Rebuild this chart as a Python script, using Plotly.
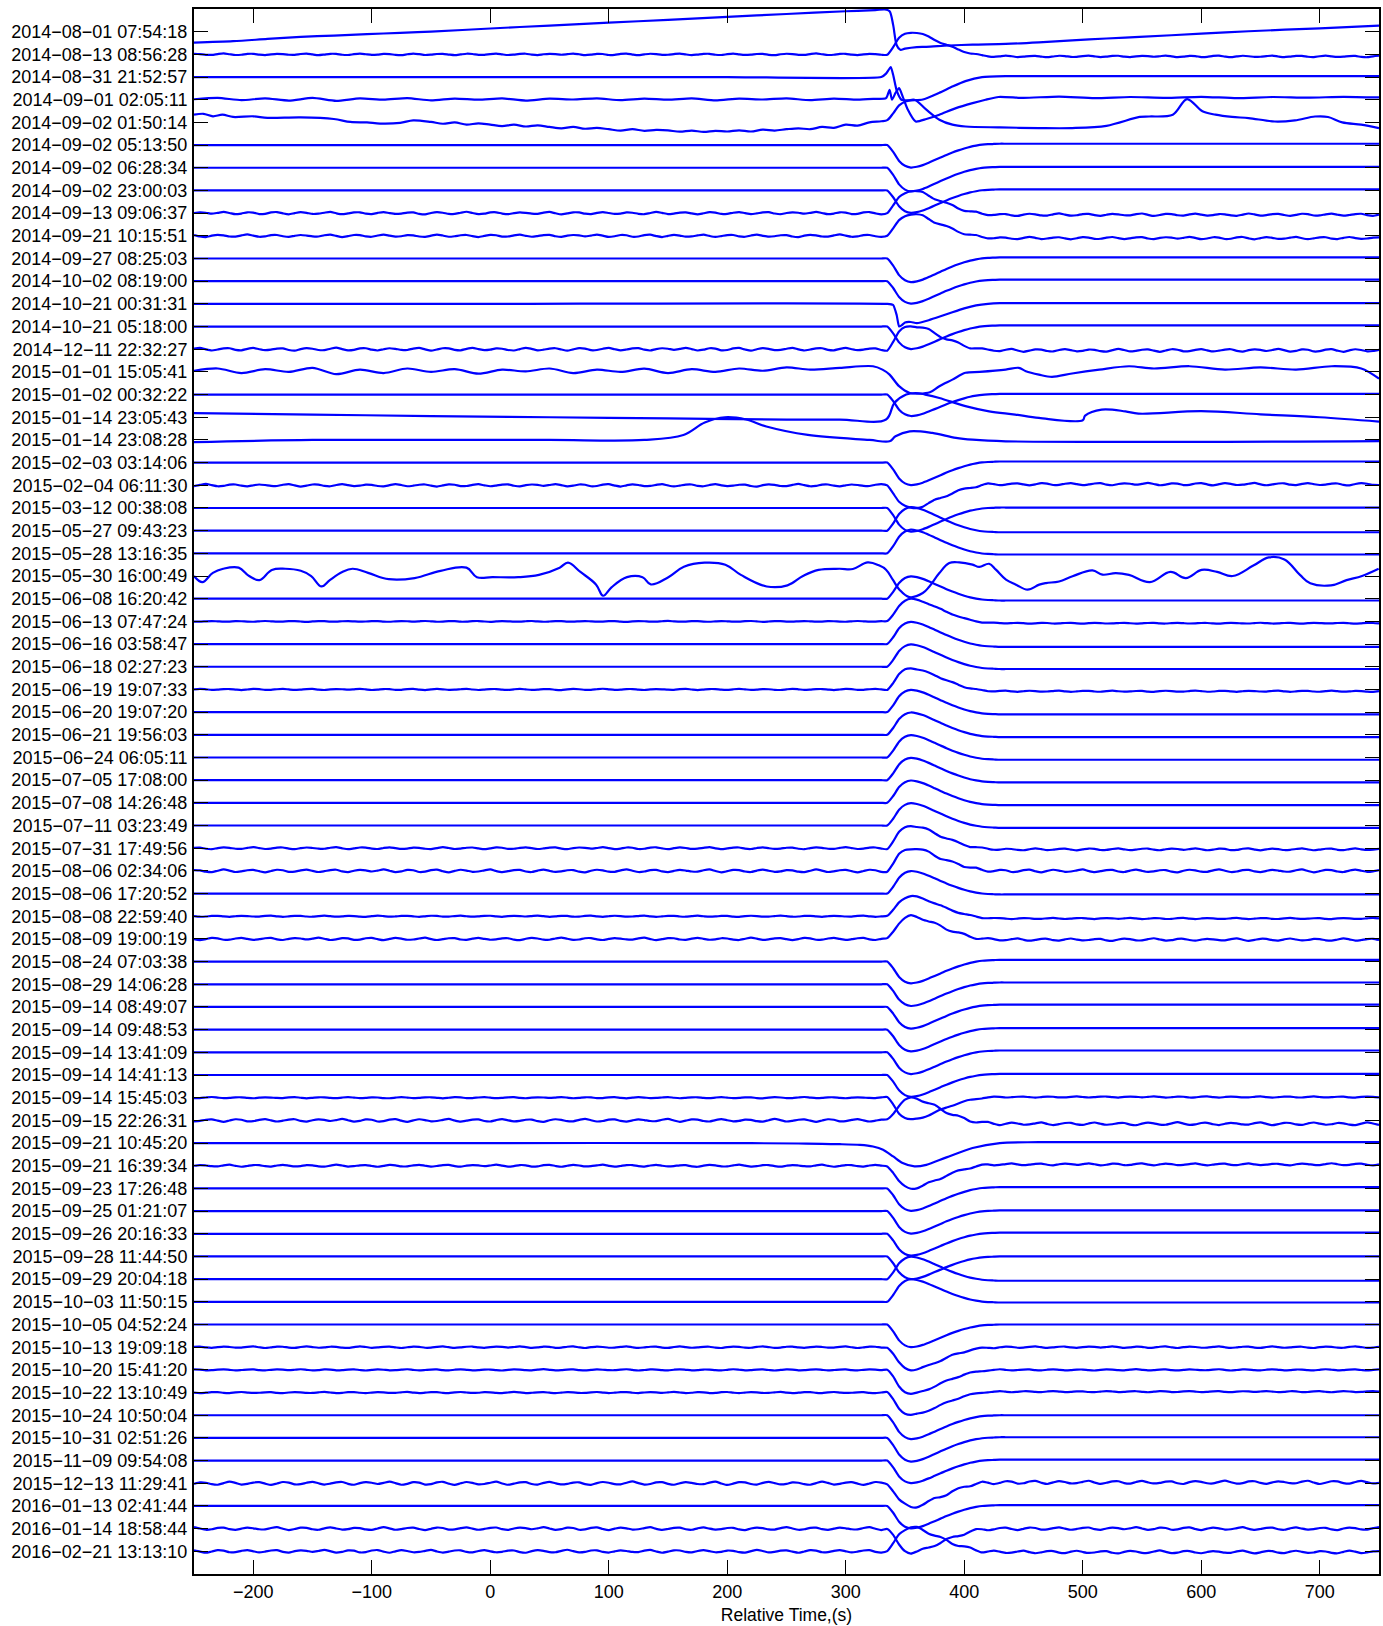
import numpy as np
import plotly.graph_objects as go

# ---------------- labels (one per trace, top to bottom) ----------------
labels = [
    "2014-08-01 07:54:18", "2014-08-13 08:56:28", "2014-08-31 21:52:57", "2014-09-01 02:05:11",
    "2014-09-02 01:50:14", "2014-09-02 05:13:50", "2014-09-02 06:28:34", "2014-09-02 23:00:03",
    "2014-09-13 09:06:37", "2014-09-21 10:15:51", "2014-09-27 08:25:03", "2014-10-02 08:19:00",
    "2014-10-21 00:31:31", "2014-10-21 05:18:00", "2014-12-11 22:32:27", "2015-01-01 15:05:41",
    "2015-01-02 00:32:22", "2015-01-14 23:05:43", "2015-01-14 23:08:28", "2015-02-03 03:14:06",
    "2015-02-04 06:11:30", "2015-03-12 00:38:08", "2015-05-27 09:43:23", "2015-05-28 13:16:35",
    "2015-05-30 16:00:49", "2015-06-08 16:20:42", "2015-06-13 07:47:24", "2015-06-16 03:58:47",
    "2015-06-18 02:27:23", "2015-06-19 19:07:33", "2015-06-20 19:07:20", "2015-06-21 19:56:03",
    "2015-06-24 06:05:11", "2015-07-05 17:08:00", "2015-07-08 14:26:48", "2015-07-11 03:23:49",
    "2015-07-31 17:49:56", "2015-08-06 02:34:06", "2015-08-06 17:20:52", "2015-08-08 22:59:40",
    "2015-08-09 19:00:19", "2015-08-24 07:03:38", "2015-08-29 14:06:28", "2015-09-14 08:49:07",
    "2015-09-14 09:48:53", "2015-09-14 13:41:09", "2015-09-14 14:41:13", "2015-09-14 15:45:03",
    "2015-09-15 22:26:31", "2015-09-21 10:45:20", "2015-09-21 16:39:34", "2015-09-23 17:26:48",
    "2015-09-25 01:21:07", "2015-09-26 20:16:33", "2015-09-28 11:44:50", "2015-09-29 20:04:18",
    "2015-10-03 11:50:15", "2015-10-05 04:52:24", "2015-10-13 19:09:18", "2015-10-20 15:41:20",
    "2015-10-22 13:10:49", "2015-10-24 10:50:04", "2015-10-31 02:51:26", "2015-11-09 09:54:08",
    "2015-12-13 11:29:41", "2016-01-13 02:41:44", "2016-01-14 18:58:44", "2016-02-21 13:13:10",
]

x_ticks = [-200, -100, 0, 100, 200, 300, 400, 500, 600, 700]

# sample times (s) of the standard traces
times = np.arange(-250, 755, 5)

# pulse shape, t = 330 ... 460 every 5 s (unit peak, up positive)
pulse_shape = [0, 0, 0.3, 0.7, 0.92, 1.0, 0.97, 0.9, 0.8, 0.69, 0.58, 0.47, 0.37, 0.28,
               0.2, 0.13, 0.08, 0.04, 0.02, 0.01, 0, 0, 0, 0, 0, 0, 0]
# level change after the pulse, same times
step_shape = [0, 0, 0, 0.05, 0.1, 0.16, 0.23, 0.3, 0.38, 0.46, 0.54, 0.62, 0.7, 0.77,
              0.83, 0.88, 0.92, 0.95, 0.97, 0.985, 1, 1, 1, 1, 1, 1, 1]
# background ripple (5 s spacing)
ripple = [0.2, 0.9, 0.1, -0.8, -0.3, 0.6, 0.4, -0.7, -0.5, 0.5, 0.8, -0.2, -0.9, 0.0, 0.7, 0.2, -0.6, -0.4, 0.3, 0.9,
          -0.1, -0.8, -0.2, 0.5, 0.6, -0.4, -0.7, 0.2, 0.8, 0.0, -0.6, -0.3, 0.4, 0.5, -0.5, -0.9, 0.1, 0.7, 0.3, -0.5,
          -0.6, 0.3, 1.0, 0.1, -0.7, -0.4, 0.5, 0.6, -0.3, -0.8, 0.0, 0.6, 0.2, -0.4, -0.5, 0.4, 0.9, -0.1, -0.9, -0.2,
          0.6, 0.5, -0.4, -0.7, 0.2, 0.8, 0.1, -0.6, -0.3, 0.5, 0.3, -0.5, -0.8, 0.1, 0.9, 0.2, -0.7, -0.3, 0.4, 0.6,
          -0.2, -0.9, -0.1, 0.7, 0.4, -0.6, -0.5, 0.3, 0.8, 0.0, -0.7, -0.2, 0.5, 0.7, -0.3, -0.8, 0.1, 0.6, 0.3, -0.4]

# per-trace pulse amplitude (trace spacings, up positive), level after pulse, ripple size
amps = [0, 1.0, 0, 0, 0, -1.0, -1.05, -1.0, 1.0, 0.98,
        -1.05, -1.0, 0, -1.0, 1.05, 0, -0.95, 0, 0, -1.0,
        -1.02, -1.05, 1.05, 1.05, 0, 1.0, 1.0, 1.0, 1.0, 0.95,
        1.0, 1.0, 1.0, 1.0, 1.0, 1.0, 1.0, 1.0, 1.0, 0.9,
        1.0, -0.97, -0.97, -0.97, -0.97, -0.97, -0.97, -0.97, 1.0, 0,
        -1.0, -1.0, -1.0, -0.97, -1.0, 1.0, 1.0, -1.0, -1.0, -1.05,
        -1.0, -1.05, -1.05, -1.0, -1.05, -1.0, -1.05, 1.05]
tails = [0, -0.09, 0, 0, 0, 0.06, 0.04, 0.05, -0.07, -0.1,
         0.05, 0.07, 0, 0.05, -0.05, 0, 0.03, 0, 0, 0.05,
         0.05, 0.02, -0.07, -0.05, 0, -0.08, -0.08, -0.12, -0.1, -0.08,
         -0.1, -0.1, -0.1, -0.1, -0.1, -0.1, -0.05, 0.0, -0.04, -0.1,
         -0.03, 0.08, 0.08, 0.1, 0.07, 0.08, 0.05, 0.03, -0.15, 0,
         0.06, 0.06, 0.03, 0.05, 0.0, -0.07, -0.03, 0.0, 0.0, 0.0,
         0.04, 0.0, 0.03, 0.04, 0.04, 0.04, 0.0, -0.03]
ripples = [0, 0.04, 0, 0, 0, 0, 0, 0, 0.06, 0.06,
           0, 0, 0, 0, 0.07, 0, 0, 0, 0, 0,
           0.06, 0, 0, 0, 0, 0, 0.02, 0, 0, 0.03,
           0, 0, 0, 0, 0, 0, 0.05, 0.07, 0, 0.03,
           0.06, 0, 0, 0, 0, 0, 0, 0.03, 0.07, 0,
           0.05, 0, 0, 0, 0, 0, 0, 0, 0.04, 0.03,
           0.03, 0, 0, 0, 0.08, 0, 0.07, 0.07]

# ---------------- individually read traces (time, level in trace spacings, up positive) --------
tr1_t = [-250, -217, -188, -160, -132, -104, -76, -50, 0, 50, 100, 150, 200, 250, 300, 325, 333,
         337, 340, 343, 346, 350, 360, 368, 387, 407, 435, 463, 491, 520, 548, 600, 640, 700, 750]
tr1_v = [-0.48, -0.42, -0.32, -0.23, -0.17, -0.11, -0.05, 0.0, 0.14, 0.27, 0.4, 0.52, 0.65, 0.78, 0.9, 0.95, 0.98,
         0.9, 0.3, -0.6, -0.8, -0.75, -0.68, -0.67, -0.61, -0.57, -0.54, -0.47, -0.38, -0.3, -0.23, -0.09, 0.02, 0.15, 0.27]

tr3_t = [-250, 0, 200, 330, 334, 338, 340, 343, 347, 352, 365, 379, 390, 401, 415, 435, 750]
tr3_v = [0, 0, 0, 0, 0.15, 0.44, 0.1, -0.6, -1.0, -1.03, -0.99, -0.69, -0.42, -0.18, 0, 0.04, 0.04]

tr4_t = [-250, -230, -210, -190, -170, -150, -130, -110, -90, -70, -50, -30, -10, 10, 30, 50, 70, 90,
         110, 130, 150, 170, 190, 210, 230, 250, 270, 290, 310, 325, 334, 337, 339, 342, 345, 348,
         352, 359, 368, 379, 393, 407, 418, 429, 450, 480, 510, 540, 570, 600, 630, 660, 690, 720, 750]
tr4_v = [0.02, 0.08, -0.02, 0.06, -0.04, 0.08, -0.05, 0.06, 0.0, 0.07, -0.03, 0.05, 0.0, 0.06, -0.04, 0.05,
         0.01, 0.06, -0.02, 0.05, 0.0, 0.06, -0.03, 0.05, 0.01, 0.06, -0.02, 0.05, 0.0, 0.04, 0.07, 0.44,
         0.0, 0.3, 0.51, 0.15, -0.4, -0.96, -0.85, -0.66, -0.37, -0.15, 0.0, 0.12, 0.08, 0.14, 0.07, 0.12,
         0.08, 0.13, 0.07, 0.12, 0.09, 0.13, 0.1]

tr5_t = [-250, -242, -234, -226, -217, -200, -188, -160, -132, -118, -104, -93, -76, -65, -50, -40, -30, -20,
         -10, 0, 10, 20, 30, 40, 50, 60, 70, 80, 90, 100, 110, 120, 130, 140, 150, 160, 170, 180, 190, 200,
         210, 220, 230, 240, 250, 260, 270, 280, 290, 300, 310, 320, 330, 335, 340, 345, 351, 358, 368, 379,
         390, 401, 430, 463, 491, 520, 548, 556, 576, 588, 601, 612, 626, 640, 662, 679, 696, 707, 719, 735, 750]
tr5_v = [0.34, 0.38, 0.27, 0.34, 0.24, 0.27, 0.2, 0.22, 0.15, 0.02, 0.0, -0.05, -0.02, 0.09, 0.02, -0.06, 0.0,
         -0.1, -0.04, -0.1, -0.16, -0.1, -0.18, -0.13, -0.2, -0.26, -0.2, -0.28, -0.24, -0.3, -0.36, -0.3,
         -0.37, -0.33, -0.35, -0.41, -0.36, -0.42, -0.37, -0.4, -0.35, -0.4, -0.32, -0.36, -0.3, -0.26, -0.3,
         -0.2, -0.24, -0.1, -0.14, 0.0, 0.05, 0.1, 0.4, 0.75, 0.93, 1.0, 0.56, 0.12, -0.1, -0.18, -0.22,
         -0.25, -0.25, -0.15, 0.24, 0.26, 0.34, 1.03, 0.49, 0.34, 0.24, 0.19, 0.04, 0.09, 0.26, 0.24, 0.0,
         -0.1, -0.25]

tr13_t = [-250, 0, 335, 340, 343, 345, 347, 350, 355, 360, 370, 380, 390, 400, 410, 420, 430, 750]
tr13_v = [0, 0, 0, -0.05, -0.5, -1.0, -0.95, -0.82, -0.8, -0.85, -0.72, -0.55, -0.37, -0.2, -0.07, 0.0, 0.03, 0.03]

tr16_t = [-250, -230, -210, -190, -170, -150, -130, -110, -90, -70, -50, -30, -10, 10, 30, 50, 70, 90, 110,
          130, 150, 170, 190, 210, 230, 250, 270, 295, 323, 331, 337, 345, 354, 362, 371, 379, 390, 401, 413,
          435, 446, 452, 463, 474, 491, 514, 539, 560, 590, 620, 650, 680, 710, 735, 750]
tr16_v = [0.05, 0.15, -0.05, 0.12, 0.0, 0.18, -0.1, 0.1, -0.05, 0.15, 0.0, 0.12, -0.08, 0.1, 0.02, 0.15, -0.05,
          0.1, 0.0, 0.14, -0.05, 0.12, 0.0, 0.15, 0.05, 0.2, 0.1, 0.18, 0.25, 0.1, -0.12, -0.63, -0.93, -0.96,
          -0.9, -0.63, -0.34, -0.04, 0.0, 0.1, 0.18, 0.03, -0.12, -0.22, -0.07, 0.1, 0.25, 0.15, 0.25, 0.1,
          0.2, 0.1, 0.25, 0.15, -0.3]

tr18_t = [-250, -150, -50, 50, 150, 250, 295, 334, 341, 351, 359, 367, 379, 401, 421, 443, 463, 500, 502,
          516, 536, 547, 600, 650, 700, 750]
tr18_v = [0.18, 0.12, 0.05, 0.0, -0.05, -0.1, -0.1, -0.1, 0.63, 1.0, 1.07, 1.0, 0.85, 0.49, 0.26, 0.12,
          -0.03, -0.13, 0.07, 0.34, 0.26, 0.16, 0.27, 0.13, 0.0, -0.19]

tr19_t = [-250, -150, -50, 50, 130, 163, 181, 198, 216, 233, 268, 320, 337, 342, 354, 373, 393, 407, 435, 750]
tr19_v = [-0.1, 0.0, 0.0, 0.0, 0.0, 0.22, 0.77, 1.0, 0.9, 0.59, 0.22, 0.0, -0.06, 0.16, 0.38, 0.31, 0.09,
          0.01, -0.06, -0.05]

tr25_t = [-250, -242.9, -234.1, -225.4, -212.3, -203.5, -194.8, -184.3, -173, -159.9, -151.1, -142.4, -135.4,
          -124.9, -116.2, -103.1, -85.6, -63.8, -41.9, -20.1, -11.3, 1.8, 23.6, 41.1, 58.6, 65.6, 76.1, 89.2,
          95.3, 102.3, 115.4, 128.5, 135.5, 150.3, 163.4, 180.9, 198.4, 211.5, 233.3, 250.8, 263.9, 277, 294.5,
          306, 318.6, 328.4, 334, 339.7, 345.3, 353.7, 365, 370.6, 379, 387.4, 395.8, 407, 412.7, 421, 426.7,
          435.2, 443.6, 453.4, 463.3, 469, 480, 491.4, 508.2, 516.6, 527.9, 539, 556.6, 574, 587, 600.3, 613.4,
          626.5, 644, 657, 670.2, 683.3, 692, 709.5, 722.6, 735.7, 749.7]
tr25_v = [0, -0.27, 0.14, 0.32, 0.37, 0, -0.18, 0.27, 0.32, 0.23, 0, -0.46, -0.18, 0.18, 0.32, 0.14, -0.14,
          -0.09, 0.23, 0.37, -0.05, -0.05, -0.05, 0.05, 0.37, 0.59, 0.18, -0.37, -0.87, -0.5, -0.05, -0.05,
          -0.37, -0.05, 0.41, 0.59, 0.5, 0.05, -0.46, -0.41, 0, 0.27, 0.32, 0.31, 0.6, 0.46, 0.28, -0.16, -0.6,
          -0.93, -0.75, -0.46, 0.13, 0.57, 0.6, 0.5, 0.4, 0.54, 0.28, -0.16, -0.38, -0.6, -0.38, -0.31, -0.24,
          -0.01, 0.25, 0.06, 0.13, 0.05, -0.27, 0.18, -0.09, 0.27, 0.18, 0, 0.46, 0.82, 0.73, 0.05, -0.32,
          -0.41, -0.18, 0, 0.32]

tr50_t = [-250, 0, 200, 260, 280, 295, 312, 323, 331.5, 340, 348, 358, 368, 385, 407, 430, 463, 750]
tr50_v = [0, 0, 0, -0.02, -0.04, -0.05, -0.08, -0.15, -0.29, -0.59, -0.88, -1.03, -0.96, -0.63, -0.22, 0.0,
          0.04, 0.04]

special = {1: (tr1_t, tr1_v, 0.8), 3: (tr3_t, tr3_v, 0.5), 4: (tr4_t, tr4_v, 0.6), 5: (tr5_t, tr5_v, 0.9),
           13: (tr13_t, tr13_v, 0.5), 16: (tr16_t, tr16_v, 0.9), 18: (tr18_t, tr18_v, 1.0),
           19: (tr19_t, tr19_v, 1.0), 25: (tr25_t, tr25_v, 1.1), 50: (tr50_t, tr50_v, 0.8)}

# ---------------- build figure ----------------
n_before = int((330 - times[0]) / 5)
n_after = len(times) - n_before - len(pulse_shape)
P = np.concatenate([np.zeros(n_before), pulse_shape, np.full(n_after, pulse_shape[-1])])
S = np.concatenate([np.zeros(n_before), step_shape, np.full(n_after, step_shape[-1])])
R = np.array(ripple * 3)

BLUE = "#0000ff"
fig = go.Figure()
for k in range(len(labels)):
    idx = k + 1
    if idx in special:
        tx, tv, sm = special[idx]
        fig.add_trace(go.Scatter(x=tx, y=idx - np.array(tv), mode="lines",
                                 line=dict(color=BLUE, width=2.2, shape="spline", smoothing=sm),
                                 hoverinfo="skip", showlegend=False))
        continue
    off = (k * 37) % len(ripple)
    w = R[off:off + len(times)]
    v = amps[k] * P + tails[k] * S + ripples[k] * w
    fig.add_trace(go.Scatter(x=times, y=idx - v, mode="lines",
                             line=dict(color=BLUE, width=2.2, shape="spline", smoothing=0.6),
                             hoverinfo="skip", showlegend=False))

FONT = "Liberation Sans, Arial, sans-serif"
axis_common = dict(showline=True, linecolor="black", linewidth=2, mirror="ticks",
                   ticks="inside", ticklen=14, tickwidth=1, tickcolor="black",
                   showgrid=False, zeroline=False,
                   tickfont=dict(family=FONT, size=18, color="black"))
fig.update_layout(
    width=1383, height=1626,
    margin=dict(l=194, r=2, t=9, b=52),
    paper_bgcolor="white", plot_bgcolor="white",
    xaxis=dict(range=[-250, 750], tickvals=x_ticks,
               ticktext=[("\u2212" + str(-t)) if t < 0 else str(t) for t in x_ticks],
               title=dict(text="Relative Time,(s)", font=dict(family=FONT, size=17.5, color="black"), standoff=8),
               **axis_common),
    yaxis=dict(range=[69, 0], tickvals=list(range(1, len(labels) + 1)),
               ticktext=[s.replace("-", "\u2212") for s in labels], ticklabelstandoff=1,
               **axis_common),
)
fig.write_html("out.html", config={"displayModeBar": False},
               post_script="document.body.style.margin='0';")
